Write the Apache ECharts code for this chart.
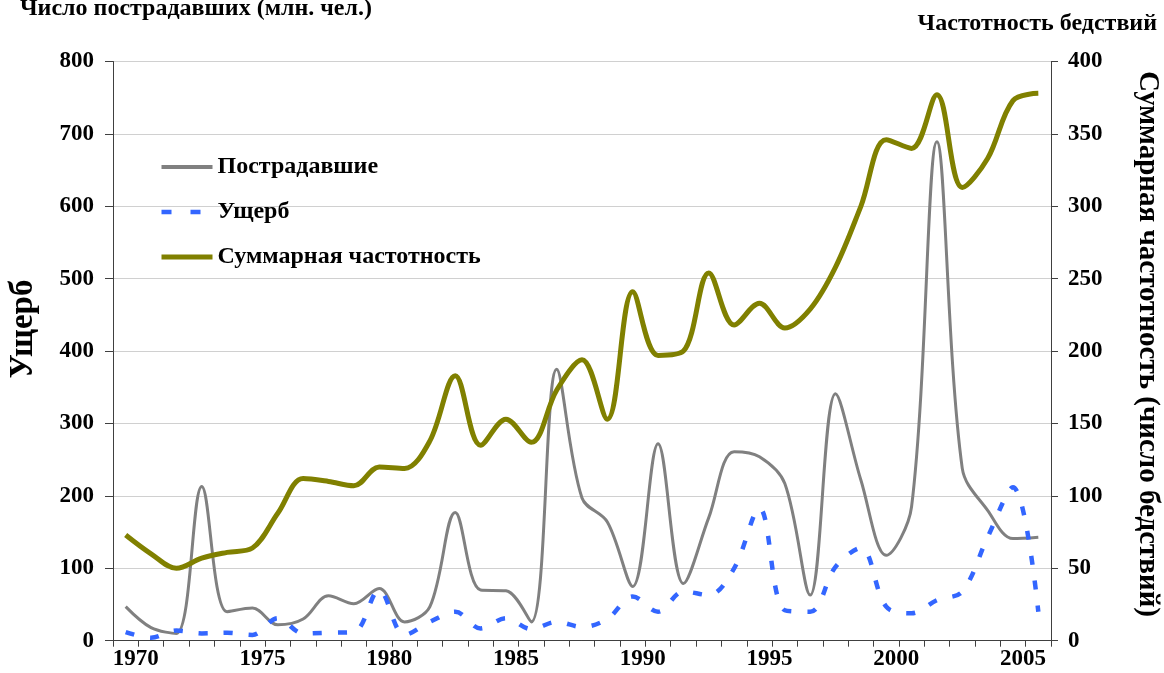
<!DOCTYPE html>
<html>
<head>
<meta charset="utf-8">
<script src="https://cdn.jsdelivr.net/npm/echarts@6/dist/echarts.min.js"></script>
<style>html,body{margin:0;padding:0;background:#fff;}#c{width:1164px;height:673px;}</style>
</head>
<body>
<div id="c"></div>
<script>
var years = ['1970','1971','1972','1973','1974','1975','1976','1977','1978','1979',
             '1980','1981','1982','1983','1984','1985','1986','1987','1988','1989',
             '1990','1991','1992','1993','1994','1995','1996','1997','1998','1999',
             '2000','2001','2002','2003','2004','2005','2006'];
var victims = [47,18,10,213,40,45,22,30,62,51,
               72,26,47,177,70,69,26,375,197,164,
               75,272,79,170,261,254,217,63,341,222,
               118,185,689,238,180,141,143];
var damage = [12,4,14,10,11,8,31,10,11,12,
              70,8,26,40,17,31,16,26,19,30,
              61,40,68,63,100,183,42,40,102,128,
              47,38,56,68,143,212,40];
var frequency = [73,60,50,57,61,64,88,112,110,107,
                 120,119,138,183,135,153,137,173,194,153,
                 241,197,200,254,218,233,216,229,258,300,
                 346,340,377,313,333,373,378];
var leftTicks = [0,100,200,300,400,500,600,700,800];
var rightTicks = [0,50,100,150,200,250,300,350,400];
var seriesNames = ['Пострадавшие','Ущерб','Суммарная частотность'];

var FONT = '"Liberation Serif","Times New Roman",serif';
var SMOOTH = 0.35;
var chart = echarts.init(document.getElementById('c'), null, {renderer:'canvas'});
var axisLineStyle = {color:'#404040', width:1};
chart.setOption({
  animation:false,
  backgroundColor:'#ffffff',
  grid:{left:113, right:113, top:61.5, bottom:32.3, containLabel:false},
  legend:{
    orient:'vertical', left:159, top:155, padding:0,
    itemWidth:51, itemHeight:14, itemGap:21,
    itemStyle:{opacity:0},
    textStyle:{fontFamily:FONT, fontWeight:'bold', fontSize:24, color:'#000', lineHeight:24},
    data:[
      {name:seriesNames[0], lineStyle:{width:4, color:'#808080'}},
      {name:seriesNames[1], lineStyle:{width:4.5, color:'#3366FF', type:[10,19]}},
      {name:seriesNames[2], lineStyle:{width:5, color:'#808000'}}
    ]
  },
  xAxis:{
    type:'category', data:years, boundaryGap:true,
    axisLine:{lineStyle:axisLineStyle},
    axisTick:{show:true, interval:0, length:6, lineStyle:axisLineStyle},
    axisLabel:{interval:4, margin:7, color:'#000', fontFamily:FONT, fontWeight:'bold', fontSize:23,
      formatter:function(v){return '{a|'+v+'}';},
      rich:{a:{fontFamily:FONT, fontWeight:'bold', fontSize:23, color:'#000', padding:[0,0,0,20]}}},
    splitLine:{show:false}
  },
  yAxis:[{
    type:'value', min:leftTicks[0], max:leftTicks[leftTicks.length-1], interval:100, position:'left',
    axisLine:{show:true, lineStyle:axisLineStyle},
    axisTick:{show:true, length:8, lineStyle:axisLineStyle},
    axisLabel:{margin:19, color:'#000', fontFamily:FONT, fontWeight:'bold', fontSize:23},
    splitLine:{show:true, lineStyle:{color:'#d0d0d0', width:1}}
  },{
    type:'value', min:rightTicks[0], max:rightTicks[rightTicks.length-1], interval:50, position:'right',
    axisLine:{show:true, lineStyle:axisLineStyle},
    axisTick:{show:true, length:7, lineStyle:axisLineStyle},
    axisLabel:{margin:17, color:'#000', fontFamily:FONT, fontWeight:'bold', fontSize:23},
    splitLine:{show:false}
  }],
  series:[{
    name:seriesNames[0], type:'line', yAxisIndex:0, data:victims, smooth:SMOOTH,
    symbol:'none', lineStyle:{color:'#808080', width:3}, itemStyle:{color:'#808080'}
  },{
    name:seriesNames[1], type:'line', yAxisIndex:0, data:damage, smooth:SMOOTH,
    symbol:'none', lineStyle:{color:'#3366FF', width:4.5, type:[9,16]}, itemStyle:{color:'#3366FF'}
  },{
    name:seriesNames[2], type:'line', yAxisIndex:1, data:frequency, smooth:SMOOTH,
    symbol:'none', lineStyle:{color:'#808000', width:5}, itemStyle:{color:'#808000'}
  }],
  graphic:[
    {type:'text', left:20, top:-3, style:{text:'Число пострадавших (млн. чел.)', font:'bold 24px '+FONT, fill:'#000'}},
    {type:'text', right:7, top:12, style:{text:'Частотность бедствий', font:'bold 24px '+FONT, fill:'#000'}},
    {type:'text', x:23, y:329, rotation:Math.PI/2,
      style:{text:'Ущерб', font:'bold 33px '+FONT, fill:'#000', x:0, y:0, align:'center', verticalAlign:'middle', textAlign:'center', textVerticalAlign:'middle'}},
    {type:'text', x:1147, y:344, rotation:-Math.PI/2,
      style:{text:'Суммарная частотность (число бедствий)', font:'bold 29px '+FONT, fill:'#000', x:0, y:0, align:'center', verticalAlign:'middle', textAlign:'center', textVerticalAlign:'middle'}}
  ]
});
</script>
</body>
</html>
